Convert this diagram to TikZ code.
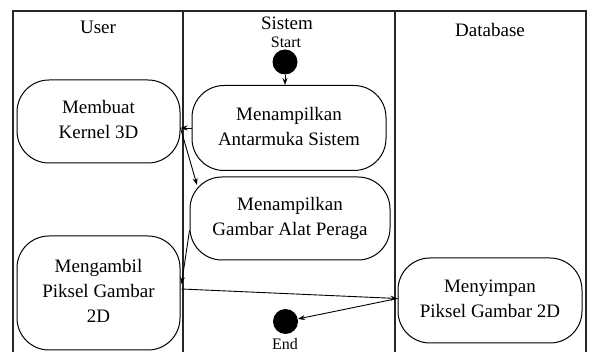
\documentclass[tikz,border=0pt]{standalone}
\usepackage{fontspec}
\setmainfont{Liberation Serif}
\usetikzlibrary{arrows.meta,calc}
% centred multi-line label for activity boxes
\newcommand\actlines[1]{\rmfamily\fontsize{19}{25}\selectfont
  \begin{tabular}{@{}c@{}}#1\end{tabular}}
\begin{document}
\begin{tikzpicture}[x=1pt,y=-1pt,
  lane/.style={line width=1.4pt, draw=black!85},
  act/.style={draw, line width=1pt, rounded corners=32pt, inner sep=0pt},
  head/.style={font=\rmfamily\fontsize{19}{22}\selectfont, inner sep=0pt},
  lbl/.style={font=\rmfamily\fontsize{16}{18}\selectfont, inner sep=0pt},
  dot/.style={circle, fill=black, minimum size=25pt, inner sep=0pt},
  arr/.style={-{Stealth[length=7pt,width=5pt]}, line width=0.9pt}]
\useasboundingbox (0,0) rectangle (589,352);
\clip (0,0) rectangle (589,352);

% swimlane frame
\draw[lane] (13,360) -- (13,11) -- (586,11) -- (586,360);
\draw[lane] (183,11) -- (183,360);
\draw[lane] (395,11) -- (395,360);

% lane headers
\node[head] (hUser) at (98,27) {User};
\node[head] (hSistem) at (287,23) {Sistem};
\node[head] (hDb) at (490,30) {Database};

% start and end markers
\node[lbl] (startLbl) at (286,42) {Start};
\node[dot] (start) at (285,62) {};
\node[dot] (end) at (285.5,321.5) {};
\node[lbl] (endLbl) at (285,344) {End};

% activities
\node[act, minimum width=163pt, minimum height=83pt] (kernel) at (98.5,121.5)
  {\actlines{Membuat\\Kernel 3D}};
\node[act, minimum width=194pt, minimum height=85pt] (antar) at (289,128)
  {\actlines{Menampilkan\\Antarmuka Sistem}};
\node[act, minimum width=200pt, minimum height=83pt] (gambar) at (290,218.5)
  {\actlines{Menampilkan\\Gambar Alat Peraga}};
\node[act, minimum width=163pt, minimum height=114pt] (ambil) at (98.5,293)
  {\actlines{Mengambil\\Piksel Gambar\\2D}};
\node[act, minimum width=184pt, minimum height=85pt] (simpan) at (490,300.5)
  {\actlines{Menyimpan\\Piksel Gambar 2D}};

% connector end points
\coordinate (kOut) at (kernel.east |- antar.west);
\coordinate (gIn) at (197,185);
\coordinate (gOut) at ($(gambar.west)+(0,12)$);
\coordinate (aIn) at ($(ambil.east)+(1,-9)$);
\coordinate (aOut) at ($(ambil.east)+(1,-4)$);
\coordinate (sIn) at ($(simpan.west)+(0,-2)$);

% flow
\draw[arr] (start) -- (start |- antar.north);
\draw[arr] (antar.west) -- (kOut);
\draw[arr] (kOut) -- (gIn);
\draw[arr] (gOut) -- (aIn);
\draw[arr] (aOut) -- (sIn);
\draw[arr] (sIn) -- (end);
\end{tikzpicture}
\end{document}
